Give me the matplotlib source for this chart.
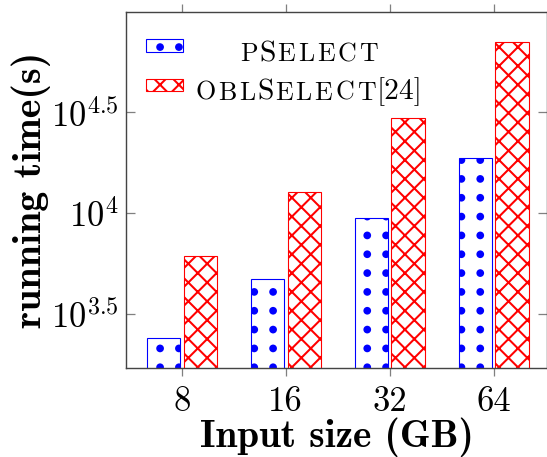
import numpy as np
import matplotlib
matplotlib.use('Agg')
import matplotlib.pyplot as plt
from matplotlib import hatch as mhatch
from matplotlib.path import Path
from matplotlib.patches import Rectangle
from matplotlib.ticker import NullLocator
from matplotlib.offsetbox import TextArea, HPacker, AnnotationBbox

# data
sizes = ['8', '16', '32', '64']
pselect = [2390, 4720, 9440, 18750]
oblselect = [6140, 12800, 29650, 71100]
yticks = [10 ** 3.5, 10 ** 4, 10 ** 4.5]
ytick_labels = [r'$10^{3.5}$', r'$10^{4}$', r'$10^{4.5}$']

DPI = 113
plt.rcParams['font.family'] = 'cmr10'
plt.rcParams['mathtext.fontset'] = 'cm'
plt.rcParams['axes.unicode_minus'] = False
plt.rcParams['hatch.linewidth'] = 1.3


class GridDots(mhatch.HatchPatternBase):
    ''' '.' hatch as a square grid of filled dots, like pgf's dots pattern '''
    def __init__(self, hatch, density):
        self.num_rows = hatch.count('.') * density
        circle = Path.unit_circle()
        self.shape_vertices = circle.vertices
        self.shape_codes = circle.codes
        self.num_vertices = len(circle.vertices) * self.num_rows ** 2

    def set_vertices_and_codes(self, vertices, codes):
        step = 1.0 / self.num_rows
        dot = self.shape_vertices * step * 0.15
        parts = [dot + [(i + 0.5) * step, (j + 0.5) * step]
                 for i in range(self.num_rows) for j in range(self.num_rows)]
        vertices[:] = np.concatenate(parts)
        codes[:] = np.tile(self.shape_codes, self.num_rows ** 2)


mhatch._hatch_types = [GridDots if t is mhatch.SmallFilledCircles else t
                       for t in mhatch._hatch_types]

fig = plt.figure(figsize=(547.3 / DPI, 457.3 / DPI), dpi=DPI)
ax = fig.add_axes([126 / 547, 89 / 457, 420.5 / 547, 356 / 457])

x = np.arange(len(sizes))
w = 0.32
off = 0.177
ax.bar(x - off, pselect, w, facecolor='white', edgecolor='blue', hatch='.', lw=0.7)
ax.bar(x + off, oblselect, w, facecolor='white', edgecolor='red', hatch='xx', lw=0.7)

ax.set_yscale('log')
ax.set_ylim(10 ** 3.232, 10 ** 5.0)
ax.set_xlim(-0.536, 3.511)
ax.set_yticks(yticks, ytick_labels)
ax.yaxis.set_minor_locator(NullLocator())
ax.set_xticks(x, sizes)

ax.tick_params(axis='y', which='major', direction='in', length=5.7, right=True,
               labelsize=22, pad=5, color='#808080')
ax.tick_params(axis='x', direction='out', length=5, top=True,
               labelsize=22, pad=6.5, color='#808080')
for s in ax.spines.values():
    s.set_color('#444444')
    s.set_linewidth(0.9)

ax.set_xlabel('Input size (GB)', fontfamily='cmb10', fontsize=25, labelpad=0)
ax.set_ylabel('running time(s)', fontfamily='cmb10', fontsize=25.5, labelpad=0)

# legend: hatched swatches plus small-caps labels
ax.add_patch(Rectangle((0.0473, 0.8876), 0.0875, 0.0366, transform=ax.transAxes,
                       facecolor='white', edgecolor='blue', hatch='.', lw=0.7, clip_on=False))
ax.add_patch(Rectangle((0.0473, 0.7781), 0.0875, 0.0337, transform=ax.transAxes,
                       facecolor='white', edgecolor='red', hatch='xx', lw=0.7, clip_on=False))

big, small = 18.8, 16.5
sc_sep, run_sep = 1.8, 1.0


def caps_label(pieces):
    runs = []
    for s, is_big in pieces:
        if is_big:
            runs.append(TextArea(s, textprops=dict(fontsize=big, fontfamily='cmr10')))
        else:
            letters = [TextArea(c, textprops=dict(fontsize=small, fontfamily='cmr10')) for c in s]
            runs.append(HPacker(children=letters, align='baseline', pad=0, sep=sc_sep))
    return HPacker(children=runs, align='baseline', pad=0, sep=run_sep)


rows = [
    (caps_label([('P', False), ('S', True), ('ELECT', False)]), 0.8447),
    (caps_label([('OBL', False), ('S', True), ('ELECT', False), ('[24]', True)]), 0.735),
]
for box, ypos in rows:
    ab = AnnotationBbox(box, (0.4347, ypos), xycoords='axes fraction',
                        box_alignment=(0.5, 0), frameon=False, pad=0,
                        annotation_clip=False)
    ax.add_artist(ab)

fig.savefig('out.png', dpi=DPI)
